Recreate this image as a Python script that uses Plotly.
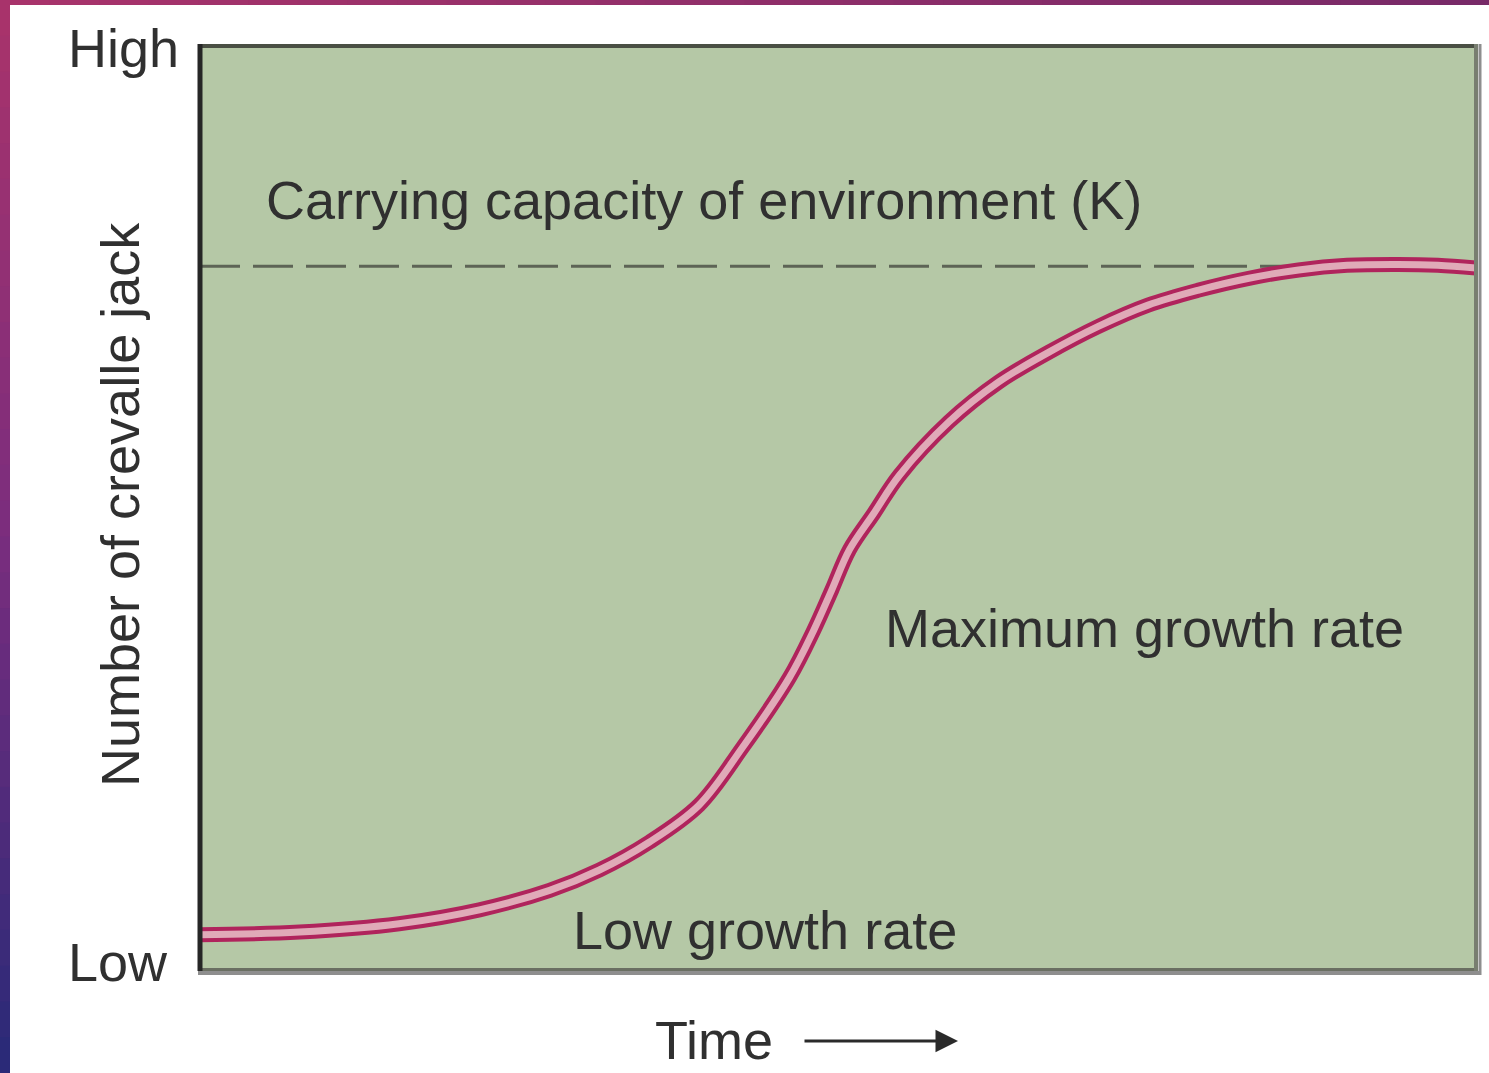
import plotly.graph_objects as go

# ---- data (time and population in arbitrary units 0-100) ----
time_vals = [0, 7.8, 15.6, 21.9, 27.4, 31.3, 35.2, 39.1, 42.5, 46.2, 48.1, 49.5,
             50.9, 52.8, 54.8, 58.7, 62.6, 66.5, 70.4, 74.3, 78.2, 82.2, 86.1,
             89.9, 93.9, 97.0, 100]
population = [3.8, 4.1, 5.0, 6.5, 8.6, 10.8, 13.8, 17.8, 24.0, 31.6, 36.7, 41.0,
              45.4, 49.3, 53.4, 59.2, 63.5, 66.7, 69.5, 71.8, 73.4, 74.7, 75.6,
              76.1, 76.2, 76.1, 75.8]
carrying_capacity = 76.0
k_x = [0, 100]

W, H = 1489, 1073
X0, X1 = 200, 1476   # plot area in pixels
Y0, Y1 = 44, 970


def px(x):
    return x / W


def py(y):
    return 1 - y / H


fig = go.Figure()

# carrying capacity dashed line
fig.add_trace(go.Scatter(
    x=k_x, y=[carrying_capacity] * len(k_x), mode="lines",
    line=dict(color="#5d6456", width=3, dash="40px,13px"),
    hoverinfo="skip", showlegend=False))

# logistic curve: dark outline + pink core
fig.add_trace(go.Scatter(
    x=time_vals, y=population, mode="lines",
    line=dict(color="#b0245c", width=15, shape="spline", smoothing=1.0),
    hoverinfo="skip", showlegend=False))
fig.add_trace(go.Scatter(
    x=time_vals, y=population, mode="lines",
    line=dict(color="#e0aab8", width=7, shape="spline", smoothing=1.0),
    hoverinfo="skip", showlegend=False))


def lerp(c1, c2, t):
    a = [int(c1[i:i + 2], 16) for i in (1, 3, 5)]
    b = [int(c2[i:i + 2], 16) for i in (1, 3, 5)]
    return "#%02x%02x%02x" % tuple(round(a[k] + (b[k] - a[k]) * t) for k in range(3))


shapes = []
# decorative slide border: left bar (gradient) and top bar
n = 30
for i in range(n):
    t = i / (n - 1)
    if t < 0.5:
        c = lerp("#a8336b", "#7a2d7e", t / 0.5)
    else:
        c = lerp("#7a2d7e", "#2b2a78", (t - 0.5) / 0.5)
    shapes.append(dict(type="rect", xref="paper", yref="paper",
                       x0=0, x1=px(10), y0=py(H * (i + 1) / n + 1), y1=py(H * i / n),
                       fillcolor=c, line=dict(width=0), layer="above"))
for i in range(n):
    t = i / (n - 1)
    c = lerp("#a8336b", "#782a68", t)
    shapes.append(dict(type="rect", xref="paper", yref="paper",
                       x0=px(W * i / n), x1=px(W * (i + 1) / n + 1), y0=py(5), y1=1,
                       fillcolor=c, line=dict(width=0), layer="above"))

# plot frame
frame = [
    ((X0 - 2, Y0 + 2), (X1 + 2, Y0 + 2), "#4a4f44", 4),          # top
    ((X0 - 2, Y1 + 3), (X1 + 4, Y1 + 3), "#8e8e8e", 4),          # bottom shadow
    ((X1 + 4, Y0), (X1 + 4, Y1 + 5), "#8e8e8e", 3),              # right shadow
    ((X0, Y1 - 0.5), (X1 + 2, Y1 - 0.5), "#6a6f62", 3),          # bottom
    ((X1, Y0), (X1, Y1 + 1), "#787e70", 4),                      # right
    ((X0, Y0), (X0, Y1 + 1), "#262626", 5),                      # left
]
for (xa, ya), (xb, yb), col, w in frame:
    shapes.append(dict(type="line", xref="paper", yref="paper",
                       x0=px(xa), y0=py(ya), x1=px(xb), y1=py(yb),
                       line=dict(color=col, width=w), layer="above"))

font = "Liberation Sans, Arial, Helvetica, sans-serif"
tc = "#303030"
FS = 54
annotations = [
    dict(text="High", x=px(66), y=py(48), xanchor="left", yanchor="middle",
         font=dict(size=FS)),
    dict(text="Low", x=px(66), y=py(962), xanchor="left", yanchor="middle",
         font=dict(size=FS)),
    dict(text="Number of crevalle jack", x=px(120), y=py(505), textangle=-90,
         xanchor="center", yanchor="middle", font=dict(size=FS)),
    dict(text="Carrying capacity of environment (K)", x=px(264), y=py(200),
         xanchor="left", yanchor="middle", font=dict(size=FS)),
    dict(text="Maximum growth rate", x=px(883), y=py(628),
         xanchor="left", yanchor="middle", font=dict(size=FS)),
    dict(text="Low growth rate", x=px(571), y=py(930),
         xanchor="left", yanchor="middle", font=dict(size=FS)),
    dict(text="Time", x=px(653), y=py(1040),
         xanchor="left", yanchor="middle", font=dict(size=FS)),
    dict(text="", x=px(958), y=py(1041), ax=-155, ay=0, showarrow=True,
         arrowhead=2, arrowsize=1.5, arrowwidth=3, arrowcolor="#2a2a2a"),
]
for a in annotations:
    a.setdefault("showarrow", False)
    a["xref"] = "paper"
    a["yref"] = "paper"
    if "font" in a:
        a["font"].update(family=font, color=tc)

fig.update_layout(
    width=W, height=H,
    margin=dict(l=0, r=0, t=0, b=0),
    paper_bgcolor="#ffffff",
    plot_bgcolor="#b5c8a6",
    xaxis=dict(domain=[px(X0), px(X1)], range=[0, 100], visible=False),
    yaxis=dict(domain=[py(Y1), py(Y0)], range=[0, 100], visible=False),
    shapes=shapes,
    annotations=annotations,
    showlegend=False,
)

fig.write_html("out.html",
               config={"displayModeBar": False},
               post_script="document.body.style.margin='0';document.body.style.overflow='hidden';")
